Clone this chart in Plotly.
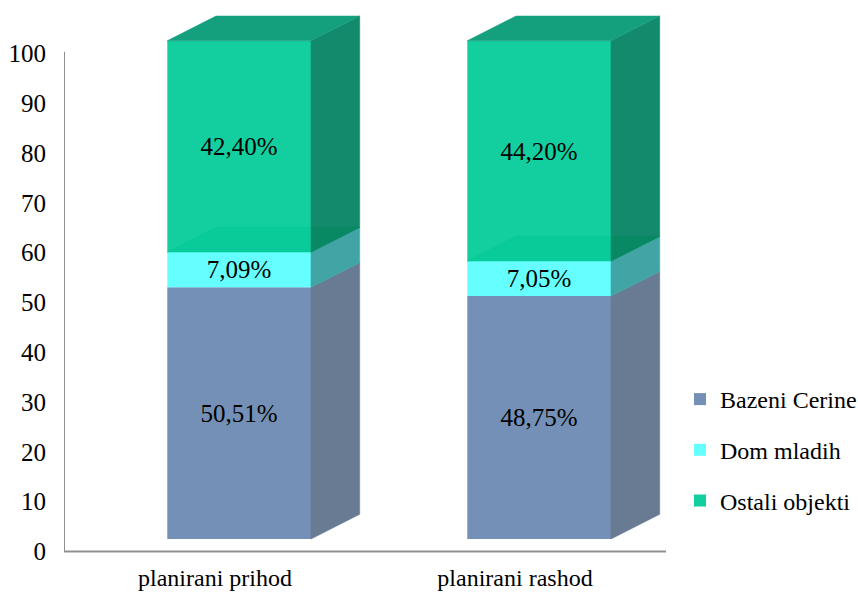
import plotly.graph_objects as go

# ---------------- data ----------------
categories = ["planirani prihod", "planirani rashod"]
bazeni_cerine = [50.51, 48.75]
dom_mladih = [7.09, 7.05]
ostali_objekti = [42.40, 44.20]
series_names = ["Bazeni Cerine", "Dom mladih", "Ostali objekti"]
y_ticks = [0, 10, 20, 30, 40, 50, 60, 70, 80, 90, 100]

# ---------------- style ----------------
FONT = "Liberation Serif"
front_colors = ["#7490B6", "#66FFFF", "#13CF9F"]
side_colors = ["#687B92", "#41A5A5", "#138A6B"]
top_color = "#14A07D"
seen_top_front = "#09CA99"
seen_top_side = "#088964"
axis_color = "#8F8F8F"

# pseudo-3D geometry (axis units)
FRONT_OFFSET = -0.159   # front face left edge relative to category position
FRONT_W = 0.479         # front face width
DX = 0.1623             # depth shift in x
DY = 4.96               # depth shift in y
FLOOR = 2.51            # front face floor elevation
LABEL_NUDGE = -0.5      # small vertical nudge for value labels

W, H = 858, 592
ml, mr, mt, mb = 64, 168, 5, 35
x_range = [(64 - 215) / 300, (690 - 215) / 300]
y_range = [(551.5 - (H - mb)) / 4.982, (551.5 - mt) / 4.982]

positions = list(range(len(categories)))
series = [bazeni_cerine, dom_mladih, ostali_objekti]

fig = go.Figure()

# front faces as bars
bases_all = []
for s_idx, (name, vals) in enumerate(zip(series_names, series)):
    bases = []
    for i in positions:
        b = FLOOR + sum(series[k][i] for k in range(s_idx))
        bases.append(b)
    bases_all.append(bases)
    fig.add_trace(go.Bar(
        x=positions, y=vals, base=bases, width=FRONT_W, offset=FRONT_OFFSET,
        name=name, legendgroup=name,
        marker=dict(color=front_colors[s_idx], line=dict(width=0)),
        hoverinfo="skip",
    ))


def poly(xs, ys, color):
    fig.add_trace(go.Scatter(
        x=xs + [xs[0]], y=ys + [ys[0]], mode="lines", fill="toself",
        fillcolor=color, line=dict(color=color, width=0.6),
        showlegend=False, hoverinfo="skip",
    ))


for i in positions:
    L = i + FRONT_OFFSET
    R = L + FRONT_W
    levels = [FLOOR]
    for s in series:
        levels.append(levels[-1] + s[i])
    # side faces
    for s_idx in range(len(series)):
        lo, hi = levels[s_idx], levels[s_idx + 1]
        poly([R, R + DX, R + DX, R], [lo, lo + DY, hi + DY, hi], side_colors[s_idx])
    # top face of the middle segment seen through the top segment
    h2 = levels[2]
    poly([L, R, R, L + DX], [h2, h2, h2 + DY, h2 + DY], seen_top_front)
    poly([R, R + DX, R], [h2, h2 + DY, h2 + DY], seen_top_side)
    # top face
    h3 = levels[3]
    poly([L, R, R + DX, L + DX], [h3, h3, h3 + DY, h3 + DY], top_color)

# value labels
lx, ly, lt = [], [], []
for s_idx, vals in enumerate(series):
    for i in positions:
        lo = bases_all[s_idx][i]
        lx.append(i + FRONT_OFFSET + FRONT_W / 2)
        ly.append(lo + vals[i] / 2 + LABEL_NUDGE)
        lt.append(f"{vals[i]:.2f}".replace(".", ",") + "%")
fig.add_trace(go.Scatter(
    x=lx, y=ly, text=lt, mode="text", showlegend=False, hoverinfo="skip",
    textfont=dict(family=FONT, size=25, color="black"),
))

# axis lines (walls)
x_end = (666 - 215) / 300
fig.add_shape(type="line", xref="x", yref="y", x0=x_range[0], x1=x_range[0],
              y0=0, y1=100.3, line=dict(color=axis_color, width=2))
fig.add_shape(type="line", xref="x", yref="y", x0=x_range[0], x1=x_end,
              y0=0, y1=0, line=dict(color=axis_color, width=2))

plot_h = H - mt - mb
fig.update_layout(
    width=W, height=H,
    margin=dict(l=ml, r=mr, t=mt, b=mb, autoexpand=False),
    paper_bgcolor="white", plot_bgcolor="white",
    barmode="overlay",
    font=dict(family=FONT, color="black"),
    xaxis=dict(range=x_range, tickvals=positions, ticktext=categories,
               showgrid=False, zeroline=False, showline=False, ticks="",
               tickfont=dict(family=FONT, size=24), ticklabelstandoff=4),
    yaxis=dict(range=y_range, tickvals=y_ticks, ticktext=[str(t) for t in y_ticks],
               showgrid=False, zeroline=False, showline=False, ticks="",
               tickfont=dict(family=FONT, size=25), ticklabelstandoff=17),
    legend=dict(x=(680 - 64) / 626, xanchor="left",
                y=((H - mb) - 377) / plot_h, yanchor="top",
                traceorder="grouped", tracegroupgap=16.5,
                font=dict(family=FONT, size=24), bgcolor="rgba(0,0,0,0)"),
    showlegend=True,
)

fig.write_html(
    "out.html",
    config={"displayModeBar": False},
    post_script="document.body.style.margin='0';document.body.style.overflow='hidden';",
)
